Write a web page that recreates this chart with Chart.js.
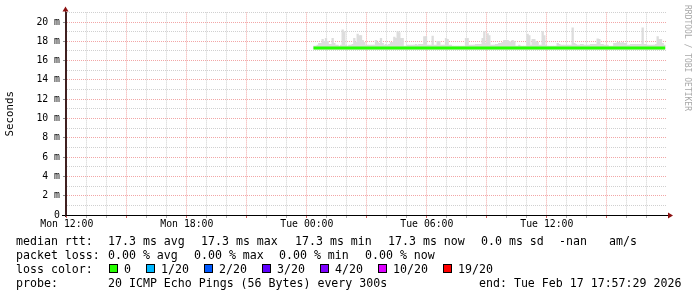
<!DOCTYPE html>
<html>
<head>
<meta charset="utf-8">
<script src="https://cdn.jsdelivr.net/npm/chart.js@4.4.1/dist/chart.umd.min.js"></script>
<style>
  html, body { margin: 0; padding: 0; background: #fff; }
  #wrap { position: relative; width: 697px; height: 297px; overflow: hidden; background: #fff; }
  #graph { position: absolute; left: 0; top: 0; }
  .lg { position: absolute; font-family: 'DejaVu Sans Mono', monospace; font-size: 11.6px; line-height: 14px; white-space: pre; color: #000; }
  .box { position: absolute; width: 7px; height: 7px; border: 1px solid #000; }
</style>
</head>
<body>
<div id="wrap">
  <canvas id="graph" width="697" height="297"></canvas>
  <div id="legend"></div>
</div>
<script>
// time axis in minutes after Mon 12:00
const graphStart = -2.5;   // Mon 11:57:29
const graphEnd = 1797.5;   // Tue 17:57:29
const xTickValues = [0, 360, 720, 1080, 1440];
const xTickLabels = ['Mon 12:00', 'Mon 18:00', 'Tue 00:00', 'Tue 06:00', 'Tue 12:00'];

const yTickValues = [0, 2, 4, 6, 8, 10, 12, 14, 16, 18, 20];
const yTickLabels = ['0', '2 m', '4 m', '6 m', '8 m', '10 m', '12 m', '14 m', '16 m', '18 m', '20 m'];

// median rtt (ms), flat over the whole run
const medianTimes = [740, 1795];
const medianRtt = [17.3, 17.3];

// smoke: one 5 minute step per value, Tue 00:20 .. Tue 17:55
const smokeStart = 740;
const smokeStep = 5;
const smokeLow = 17.2;
const smokeHigh = [
  17.5, 17.5, 17.6, 17.8, 17.8, 18.2, 18.0, 18.3, 18.0, 17.7,
  17.7, 18.3, 17.8, 17.6, 17.6, 17.5, 17.6, 19.2, 19.0, 17.6,
  17.5, 17.6, 17.6, 17.7, 18.3, 17.9, 18.75, 18.6, 18.6, 18.1,
  17.9, 17.6, 17.6, 17.6, 17.6, 17.6, 17.6, 18.1, 17.9, 17.8,
  18.3, 17.8, 17.6, 17.7, 17.6, 17.7, 17.9, 17.9, 18.45, 18.3,
  19.0, 18.9, 18.3, 18.3, 17.5, 17.5, 17.6, 17.6, 17.6, 17.6,
  17.6, 17.7, 17.6, 17.7, 17.7, 17.7, 18.5, 18.5, 17.6, 17.6,
  17.6, 18.55, 17.6, 17.6, 18.0, 18.0, 17.6, 17.6, 17.6, 18.3,
  18.2, 17.6, 17.6, 17.5, 17.5, 17.5, 17.5, 17.5, 17.5, 17.5,
  17.5, 18.3, 18.3, 17.6, 17.6, 17.6, 17.6, 17.7, 17.7, 17.7,
  17.7, 18.3, 19.0, 17.8, 18.8, 18.6, 17.6, 17.6, 17.6, 17.7,
  17.7, 17.8, 17.8, 17.9, 18.1, 18.1, 18.1, 18.0, 17.9, 18.1,
  18.0, 17.5, 17.5, 17.6, 17.5, 17.5, 17.5, 17.5, 18.75, 18.6,
  17.6, 18.2, 18.2, 18.0, 17.9, 17.6, 17.6, 19.0, 18.6, 17.6,
  17.5, 17.5, 17.5, 17.5, 17.5, 17.5, 17.8, 17.7, 17.6, 17.6,
  17.6, 17.6, 17.6, 17.6, 17.6, 19.4, 17.8, 17.7, 17.6, 17.6,
  17.7, 17.7, 17.6, 17.6, 17.6, 17.6, 17.7, 17.7, 17.7, 17.7,
  18.25, 18.2, 17.7, 17.7, 17.6, 17.6, 17.6, 17.5, 17.5, 17.5,
  17.8, 17.8, 17.9, 17.9, 17.8, 17.9, 17.8, 17.8, 17.6, 17.6,
  17.7, 17.7, 17.7, 17.7, 17.7, 17.7, 17.7, 19.4, 17.7, 17.7,
  17.6, 17.6, 17.6, 17.6, 17.6, 17.7, 18.5, 18.2, 18.2, 17.8, 17.6
];

const rttStats = ['17.3 ms avg', '17.3 ms max', '17.3 ms min', '17.3 ms now', '0.0 ms sd', '-nan', 'am/s'];
const lossStats = ['0.00 % avg', '0.00 % max', '0.00 % min', '0.00 % now'];
const lossLabels = ['0', '1/20', '2/20', '3/20', '4/20', '10/20', '19/20'];
const lossColors = ['#26ff00', '#00b8ff', '#0059ff', '#5e00ff', '#7e00ff', '#dd00ff', '#ff0000'];
const probeText = '20 ICMP Echo Pings (56 Bytes) every 300s';
const endText = 'end: Tue Feb 17 17:57:29 2026';

const MAJOR = '#f2a6a6';
const MINOR = '#d0d0d0';
const tickFont = { family: 'DejaVu Sans Mono', size: 9.8 };

const smokePoints = smokeHigh.map((v, i) => ({ x: smokeStart + smokeStep * (i + 0.5), y: [smokeLow, v] }));
const medianPoints = medianTimes.map((t, i) => ({ x: t, y: medianRtt[i] }));

// arrows and the vertical rrdtool tag
const rrdDecor = {
  id: 'rrdDecor',
  afterDraw(chart) {
    const { ctx, chartArea: a } = chart;
    const yb = Math.round(a.bottom) + 0.5;
    const xl = Math.round(a.left) - 0.5;
    ctx.save();
    ctx.lineWidth = 1;
    ctx.strokeStyle = '#000';
    ctx.beginPath();
    ctx.moveTo(a.left - 4, yb); ctx.lineTo(a.right + 3, yb);
    ctx.stroke();
    ctx.strokeStyle = '#402020';
    ctx.beginPath();
    ctx.moveTo(xl, a.bottom + 2); ctx.lineTo(xl, a.top - 3);
    ctx.stroke();
    ctx.fillStyle = '#8b1010';
    ctx.beginPath();
    ctx.moveTo(a.right + 7, yb); ctx.lineTo(a.right + 2, yb - 3); ctx.lineTo(a.right + 2, yb + 3);
    ctx.closePath(); ctx.fill();
    ctx.beginPath();
    ctx.moveTo(xl, a.top - 6); ctx.lineTo(xl - 3, a.top - 1); ctx.lineTo(xl + 3, a.top - 1);
    ctx.closePath(); ctx.fill();

    ctx.translate(687.5, 5);
    ctx.rotate(Math.PI / 2);
    ctx.fillStyle = '#a8a8a8';
    ctx.font = '8px "DejaVu Sans Mono"';
    ctx.textBaseline = 'middle';
    ctx.fillText('RRDTOOL / TOBI OETIKER', 0, 0);
    ctx.restore();
  }
};

new Chart(document.getElementById('graph'), {
  type: 'bar',
  data: {
    datasets: [
      {
        type: 'line',
        data: medianPoints,
        borderColor: '#26ff00',
        borderWidth: 3,
        pointRadius: 0,
        borderCapStyle: 'butt',
        order: 0
      },
      {
        type: 'bar',
        data: smokePoints,
        backgroundColor: '#dddddd',
        borderWidth: 0,
        barPercentage: 1,
        categoryPercentage: 1,
        order: 1
      }
    ]
  },
  options: {
    responsive: false,
    animation: false,
    devicePixelRatio: 1,
    layout: { padding: { left: 0, top: 12.4, right: 31, bottom: 67 } },
    plugins: { legend: { display: false }, tooltip: { enabled: false } },
    scales: {
      x: {
        type: 'linear',
        min: graphStart,
        max: graphEnd,
        offset: false,
        afterBuildTicks: s => {
          s.ticks = [];
          for (let v = 0; v <= 1740; v += 60) s.ticks.push({ value: v });
        },
        afterFit: s => { s.height = 15; },
        ticks: {
          autoSkip: false,
          maxRotation: 0,
          padding: 1,
          font: tickFont,
          color: '#000',
          callback: v => {
            const i = xTickValues.indexOf(v);
            return i < 0 ? '' : xTickLabels[i];
          }
        },
        grid: {
          offset: false,
          color: c => (c.tick && c.tick.value % 180 === 0) ? MAJOR : MINOR,
          tickColor: c => (c.tick && c.tick.value % 180 === 0) ? '#d06060' : '#b0b0b0',
          tickLength: 3
        },
        border: { color: '#000', dash: [1, 1] }
      },
      y: {
        min: 0,
        max: 21,
        afterBuildTicks: s => {
          s.ticks = [];
          for (let v = 0; v <= 21; v++) s.ticks.push({ value: v });
        },
        afterFit: s => { s.width = 66; },
        ticks: {
          autoSkip: false,
          padding: 3,
          font: tickFont,
          color: '#000',
          callback: v => {
            const i = yTickValues.indexOf(v);
            return i < 0 ? '' : yTickLabels[i];
          }
        },
        grid: {
          color: c => (c.tick && c.tick.value % 2 === 0) ? MAJOR : MINOR,
          tickColor: c => (c.tick && c.tick.value % 2 === 0) ? '#909090' : 'rgba(0,0,0,0)',
          tickLength: 3
        },
        border: { color: '#402020', dash: [1, 1] },
        title: {
          display: true,
          text: 'Seconds',
          color: '#000',
          font: { family: 'DejaVu Sans Mono', size: 10.8 },
          padding: { top: 4, bottom: 0 }
        }
      }
    }
  },
  plugins: [rrdDecor]
});

// legend lines under the graph
const legend = document.getElementById('legend');
function addText(x, top, text) {
  const d = document.createElement('div');
  d.className = 'lg';
  d.style.left = x + 'px';
  d.style.top = top + 'px';
  d.textContent = text;
  legend.appendChild(d);
}
function addBox(x, top, color) {
  const d = document.createElement('div');
  d.className = 'box';
  d.style.left = x + 'px';
  d.style.top = top + 'px';
  d.style.background = color;
  legend.appendChild(d);
}

addText(16, 234, 'median rtt:');
[108, 201, 295, 388, 481, 559, 609].forEach((x, i) => addText(x, 234, rttStats[i]));
addText(16, 248, 'packet loss:');
[108, 194, 279, 365].forEach((x, i) => addText(x, 248, lossStats[i]));
addText(16, 262, 'loss color:');
[109, 146, 204, 262, 320, 378, 443].forEach((x, i) => {
  addBox(x, 264, lossColors[i]);
  addText(x + 15, 262, lossLabels[i]);
});
addText(16, 276, 'probe:');
addText(108, 276, probeText);
addText(479, 276, endText);
</script>
</body>
</html>
